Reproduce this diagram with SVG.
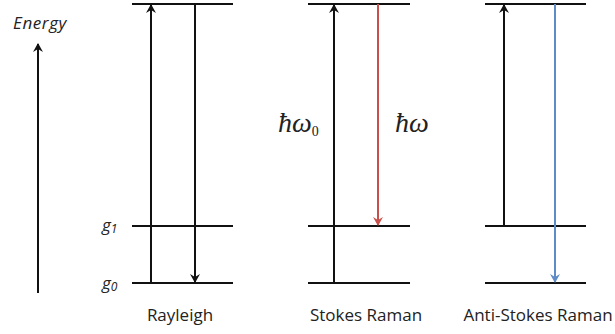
<svg xmlns="http://www.w3.org/2000/svg" width="615" height="334" viewBox="0 0 615 334">
<style>
.lvl{stroke:#111;stroke-width:2;fill:none}
.ar{stroke:#111;stroke-width:2;fill:none}
.lbl{font-family:"Open Sans","Liberation Sans",sans-serif;font-size:17px;fill:#222}
.g{font-family:"Open Sans","Liberation Sans",sans-serif;font-style:italic;font-size:17px;fill:#222}
.m{font-family:"Liberation Serif","DejaVu Serif",serif;font-style:italic;font-size:28px;fill:#222}
</style>
<defs>
<marker id="hk" markerWidth="10" markerHeight="10" refX="8" refY="5" orient="auto" markerUnits="userSpaceOnUse"><path d="M0,0 L9,5 L0,10 L3,5 Z" fill="#111"/></marker>
<marker id="hr" markerWidth="10" markerHeight="10" refX="8" refY="5" orient="auto" markerUnits="userSpaceOnUse"><path d="M0,0 L9,5 L0,10 L3,5 Z" fill="#c9504a"/></marker>
<marker id="hb" markerWidth="10" markerHeight="10" refX="8" refY="5" orient="auto" markerUnits="userSpaceOnUse"><path d="M0,0 L9,5 L0,10 L3,5 Z" fill="#5f8bc6"/></marker>
</defs>
<g id="energy-axis">
<text class="g" x="13" y="29" letter-spacing="0.6">Energy</text>
<line class="ar" x1="38" y1="293" x2="38" y2="44" marker-end="url(#hk)"/>
</g>
<g id="labels-g">
<text class="g" x="102" y="231">g<tspan font-size="12" dy="2">1</tspan></text>
<text class="g" x="102" y="289">g<tspan font-size="12" dy="2">0</tspan></text>
</g>
<g id="rayleigh">
<line class="lvl" x1="132" y1="4" x2="233" y2="4"/>
<line class="lvl" x1="132" y1="226" x2="233" y2="226"/>
<line class="lvl" x1="132" y1="283" x2="233" y2="283"/>
<text class="lbl" x="180" y="321" text-anchor="middle">Rayleigh</text>
</g>
<g id="stokes">
<line class="lvl" x1="308" y1="4" x2="410" y2="4"/>
<line class="lvl" x1="308" y1="226" x2="410" y2="226"/>
<line class="lvl" x1="308" y1="283" x2="410" y2="283"/>
<text class="lbl" x="366" y="321" text-anchor="middle">Stokes Raman</text>
<text class="m" x="278" y="132">ħω<tspan font-size="14" font-style="normal" dy="4">0</tspan></text>
<text class="m" x="395" y="132">ħω</text>
</g>
<g id="anti-stokes">
<line class="lvl" x1="485" y1="4" x2="586" y2="4"/>
<line class="lvl" x1="485" y1="226" x2="586" y2="226"/>
<line class="lvl" x1="485" y1="283" x2="586" y2="283"/>
<text class="lbl" x="538" y="321" text-anchor="middle">Anti-Stokes Raman</text>
</g>
<g id="connectors">
<line class="ar" x1="151" y1="283" x2="151" y2="5" marker-end="url(#hk)"/>
<line class="ar" x1="195" y1="4" x2="195" y2="282" marker-end="url(#hk)"/>
<line class="ar" x1="334" y1="283" x2="334" y2="5" marker-end="url(#hk)"/>
<line x1="378" y1="4" x2="378" y2="225" stroke="#c9504a" stroke-width="2" marker-end="url(#hr)"/>
<line class="ar" x1="504" y1="226" x2="504" y2="5" marker-end="url(#hk)"/>
<line x1="555" y1="4" x2="555" y2="282" stroke="#5f8bc6" stroke-width="2" marker-end="url(#hb)"/>
</g>
</svg>
